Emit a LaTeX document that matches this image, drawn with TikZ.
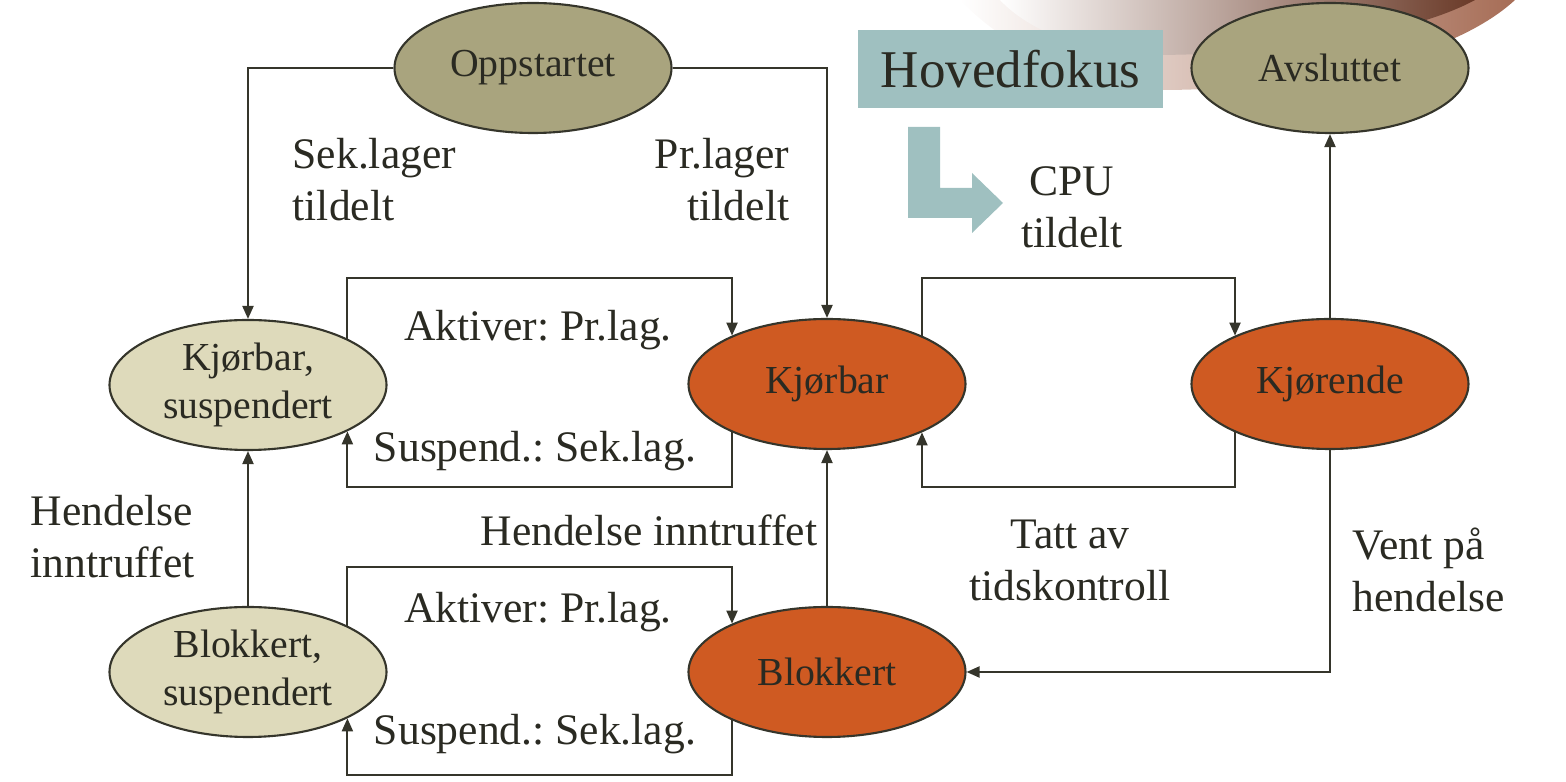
\documentclass[tikz,border=0pt]{standalone}
\usepackage{fontspec}
\setmainfont{Liberation Serif}
\newfontfamily\tidfont{Liberation Serif}
\usetikzlibrary{shapes.geometric}
\usetikzlibrary{arrows.meta}

\definecolor{linecol}{HTML}{35352B}
\definecolor{textcol}{HTML}{2A2A22}
\definecolor{ytrecol}{HTML}{A9A47E}
\definecolor{suspcol}{HTML}{DEDABB}
\definecolor{aktivcol}{HTML}{CF5A22}
\definecolor{fokuscol}{HTML}{9FC0C0}
\definecolor{buecol}{HTML}{C0603A}
\definecolor{buemork}{HTML}{6A3A28}

\tikzset{
    tilstand/.style={ellipse,draw=linecol,line width=0.6pt,minimum width=2.77cm,minimum height=1.30cm,inner sep=0pt,align=center,text=textcol,font=\tidfont\fontsize{11.3}{13.7}\selectfont},
    ytre/.style={tilstand,fill=ytrecol},
    susp/.style={tilstand,fill=suspcol},
    aktiv/.style={tilstand,fill=aktivcol},
    overgang/.style={draw=linecol,line width=0.6pt,-{Triangle[length=1.3mm,width=1.1mm]}},
    etikett/.style={inner sep=0pt,text=textcol,font=\tidfont\frenchspacing\fontsize{12.4}{14.8}\selectfont},
}

\begin{document}
\frenchspacing
\begin{tikzpicture}
    \useasboundingbox (0,0) rectangle (15.66,7.82);

    % swoosh in the slide corner
    \shade[left color=white,right color=buecol!60!gray] (9.6,7.82) .. controls (10.0,7.4) and (10.8,6.92) .. (11.6,6.92) .. controls (13.0,6.92) and (14.5,7.22) .. (15.15,7.82) -- cycle;
    \shade[left color=white,middle color=buecol!80,right color=buemork] (10.0,7.82) .. controls (10.3,7.5) and (10.9,7.27) .. (11.5,7.27) .. controls (13.0,7.27) and (14.2,7.52) .. (14.75,7.82) -- cycle;

    % states
    \node[ytre] (opp) at (5.33,7.14) {Oppstartet};
    \node[ytre] (avs) at (13.30,7.14) {Avsluttet};
    \node[susp] (kbs) at (2.48,3.97) {Kjørbar,\\suspendert};
    \node[aktiv] (kb) at (8.27,3.98) {Kjørbar};
    \node[aktiv] (kj) at (13.30,3.98) {Kjørende};
    \node[susp] (bs) at (2.48,1.10) {Blokkert,\\suspendert};
    \node[aktiv] (bl) at (8.27,1.10) {Blokkert};

    % focus box and thick arrow
    \node[fill=fokuscol,minimum width=3.05cm,minimum height=0.78cm,inner sep=0pt,text=textcol,font=\tidfont\fontsize{15.1}{18}\selectfont] (fokus) at (10.105,7.13) {Hovedfokus};
    \fill[fokuscol] (9.08,6.55) -- (9.40,6.55) -- (9.40,5.94) -- (9.72,5.94) -- (9.72,6.09) -- (10.03,5.79) -- (9.72,5.49) -- (9.72,5.64) -- (9.08,5.64) -- cycle;

    % from Oppstartet
    \draw[overgang] (opp.west) -| (kbs.north);
    \draw[overgang] (opp.east) -| (kb.north);
    \node[etikett,anchor=west,align=left] (sek) at (2.92,6.02) {Sek.lager\\tildelt};
    \node[etikett,anchor=east,align=right] (pr) at (7.90,6.02) {Pr.lager\\tildelt};

    % between Kjørbar suspendert and Kjørbar
    \draw[overgang] (kbs.25) -- ++(0,0.61) -| (kb.153);
    \draw[overgang] (kb.207) -- ++(0,-0.55) -| (kbs.335);
    \node[etikett] (akt1) at (5.38,4.52) {Aktiver: Pr.lag.};
    \node[etikett] (sus1) at (5.35,3.31) {Suspend.: Sek.lag.};

    % between Kjørbar and Kjørende
    \draw[overgang] (kb.27) -- ++(0,0.58) -| (kj.153);
    \draw[overgang] (kj.207) -- ++(0,-0.55) -| (kb.333);
    \node[etikett,align=center] (cpu) at (10.72,5.75) {CPU\\tildelt};
    \node[etikett,align=center] (tatt) at (10.70,2.22) {Tatt av\\tidskontroll};

    % Kjørende to Avsluttet and Blokkert
    \draw[overgang] (kj.north) -- (avs.south);
    \draw[overgang] (kj.south) |- (bl.east);
    \node[etikett,anchor=west,align=left] (vent) at (13.52,2.12) {Vent på\\hendelse};

    % events
    \draw[overgang] (bl.north) -- (kb.south);
    \node[etikett] (hend) at (6.49,2.52) {Hendelse inntruffet};
    \draw[overgang] (bs.north) -- (kbs.south);
    \node[etikett,anchor=west,align=left] (hendv) at (0.30,2.45) {Hendelse\\inntruffet};

    % between Blokkert suspendert and Blokkert
    \draw[overgang] (bs.25) -- ++(0,0.59) -| (bl.153);
    \draw[overgang] (bl.207) -- ++(0,-0.55) -| (bs.335);
    \node[etikett] (akt2) at (5.38,1.70) {Aktiver: Pr.lag.};
    \node[etikett] (sus2) at (5.35,0.48) {Suspend.: Sek.lag.};
\end{tikzpicture}
\end{document}
